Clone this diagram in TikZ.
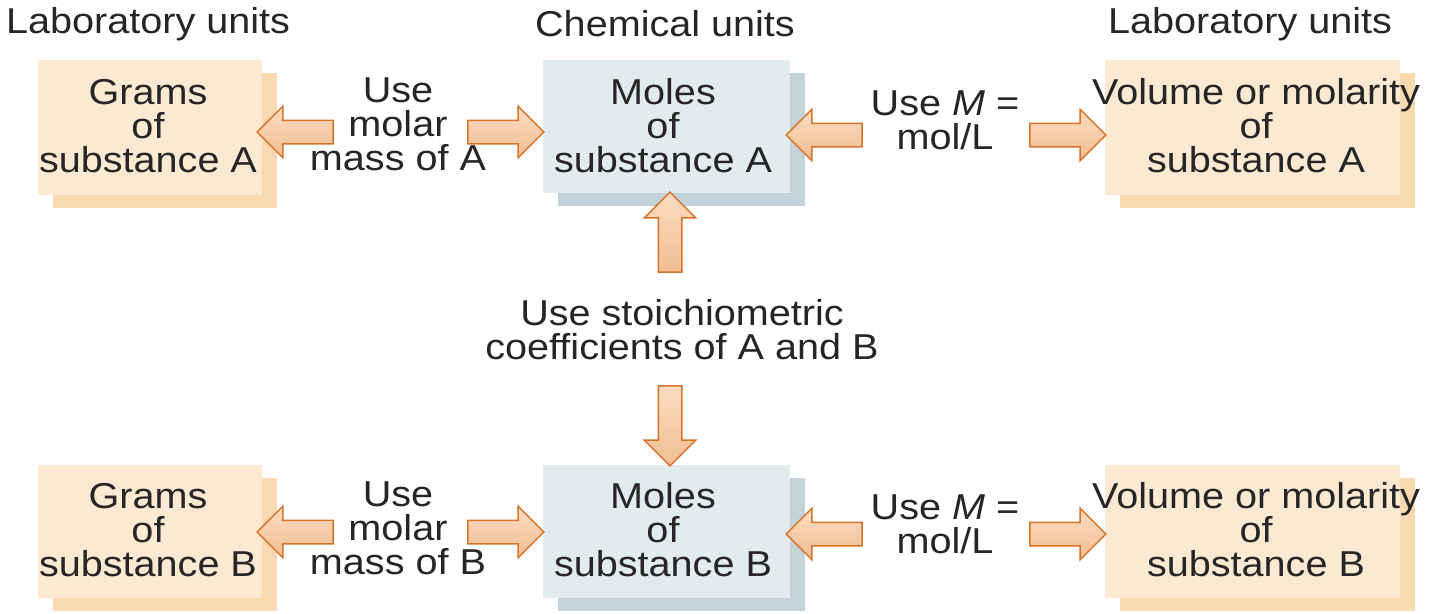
\documentclass[tikz,border=0pt]{standalone}
\usepackage{fontspec}
\setmainfont{Liberation Sans}[FakeStretch=1.1]
\usetikzlibrary{shapes.arrows}
\definecolor{labf}{HTML}{FCE9D2}
\definecolor{labs}{HTML}{F8D9B0}
\definecolor{chemf}{HTML}{E2EBEE}
\definecolor{chems}{HTML}{C3D3D9}
\definecolor{arrl}{HTML}{FBDDC0}
\definecolor{arrd}{HTML}{D9732A}
\begin{document}
\begin{tikzpicture}[x=1pt,y=-1pt,
  txt/.style={font=\fontsize{36}{34}\selectfont,align=center,inner sep=0pt,text=black!85},
  blk/.style={single arrow,single arrow head extend=14pt,single arrow head indent=0pt,
     inner sep=11pt,minimum height=#1,draw=arrd,line width=1.5pt,top color=arrl,bottom color=arrl!70!arrd},
  blk/.default=76pt]
\useasboundingbox[fill=white] (0,0) rectangle (1440,613);
\newcommand{\bx}[6]{%
  \fill[#6] (#1+15,#2+13) rectangle (#3+15,#4+13);
  \fill[#5] (#1,#2) rectangle (#3,#4);}
\bx{38}{60}{262}{195}{labf}{labs}
\bx{543}{60}{790}{193}{chemf}{chems}
\bx{1105}{60}{1400}{195}{labf}{labs}
\bx{38}{465}{262}{598}{labf}{labs}
\bx{543}{465}{790}{598}{chemf}{chems}
\bx{1105}{465}{1400}{598}{labf}{labs}
\node[txt] (t1) at (148,24) {Laboratory units};
\node[txt] (t2) at (665,24) {Chemical units};
\node[txt] (t3) at (1250,24) {Laboratory units};
\node[txt] (ga) at (148,126) {Grams\\of\\substance A};
\node[txt] (ma) at (663,126) {Moles\\of\\substance A};
\node[txt] (va) at (1256,126) {Volume or molarity\\of\\substance A};
\node[txt] (gb) at (148,530) {Grams\\of\\substance B};
\node[txt] (mb) at (663,530) {Moles\\of\\substance B};
\node[txt] (vb) at (1256,530) {Volume or molarity\\of\\substance B};
\node[txt] (la) at (398,124) {Use\\molar\\mass of A};
\node[txt] (lb) at (398,528) {Use\\molar\\mass of B};
\node[txt] (ra) at (945,120) {Use \textit{M} =\\mol/L};
\node[txt] (rb) at (945,524) {Use \textit{M} =\\mol/L};
\node[txt] (st) at (682,330) {Use stoichiometric\\coefficients of A and B};
\node[blk,shape border rotate=180] (a1) at (301,132) {};
\node[blk] (a2) at (500,132) {};
\node[blk,shape border rotate=180] (a3) at (830,135) {};
\node[blk] (a4) at (1062,135) {};
\node[blk,shape border rotate=180] (b1) at (301,532) {};
\node[blk] (b2) at (500,532) {};
\node[blk,shape border rotate=180] (b3) at (830,534) {};
\node[blk] (b4) at (1062,534) {};
\node[blk=80pt,shape border rotate=90] (u) at (670,238) {};
\node[blk=80pt,shape border rotate=270] (d) at (670,420) {};
\end{tikzpicture}
\end{document}
